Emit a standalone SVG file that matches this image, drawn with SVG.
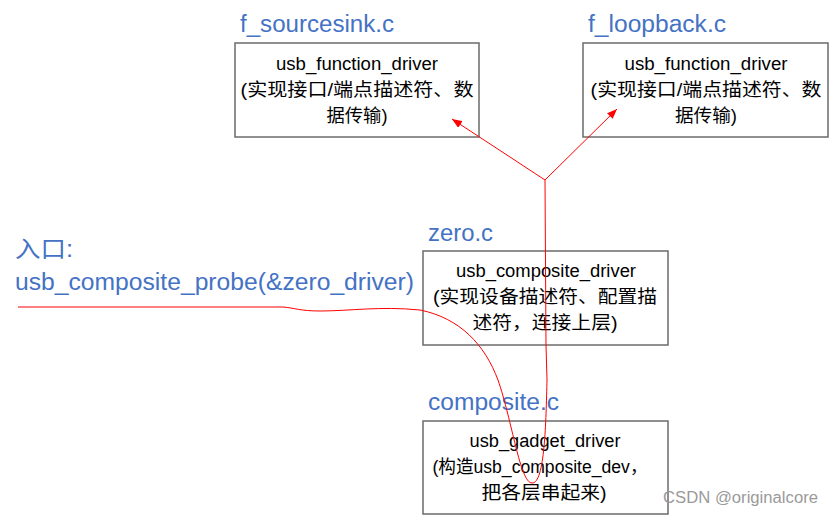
<svg xmlns="http://www.w3.org/2000/svg" width="833" height="516" viewBox="0 0 833 516">
<style>
.box{fill:#fff;stroke:#6b6b6b;stroke-width:1.5}
.t{font-family:"Liberation Sans","Noto Sans CJK SC",sans-serif;font-size:18px;fill:#000;text-anchor:middle}
.h{font-family:"Liberation Sans","Noto Sans CJK SC",sans-serif;font-size:23px;fill:#4472C4}
.r{fill:none;stroke:#ff0000;stroke-width:1}
.wm{font-family:"Liberation Sans",sans-serif;font-size:16px;fill:#9a9a9a}
</style>
<defs>
<marker id="ah" viewBox="0 0 10 8" refX="10" refY="4" markerWidth="10" markerHeight="8" markerUnits="userSpaceOnUse" orient="auto">
<path d="M0,0 L10,4 L0,8 z" fill="#ff0000"/>
</marker>
</defs>
<g id="title-sourcesink"><text class="h" x="240" y="32" textLength="154" lengthAdjust="spacingAndGlyphs">f_sourcesink.c</text></g>
<g id="title-loopback"><text class="h" x="588" y="32" textLength="138" lengthAdjust="spacingAndGlyphs">f_loopback.c</text></g>
<g id="title-zero"><text class="h" x="428" y="241" textLength="65" lengthAdjust="spacingAndGlyphs">zero.c</text></g>
<g id="title-composite"><text class="h" x="428" y="410" textLength="131" lengthAdjust="spacingAndGlyphs">composite.c</text></g>
<g id="entry">
<text class="h" x="15" y="257" textLength="58" lengthAdjust="spacingAndGlyphs">入口:</text>
<text class="h" x="15" y="290" textLength="399" lengthAdjust="spacingAndGlyphs">usb_composite_probe(&amp;zero_driver)</text>
</g>
<g id="node-sourcesink">
<rect class="box" x="235" y="43" width="244" height="94"/>
<text class="t" x="357" y="70" textLength="162" lengthAdjust="spacingAndGlyphs">usb_function_driver</text>
<text class="t" x="357" y="96" textLength="233" lengthAdjust="spacingAndGlyphs">(实现接口/端点描述符、数</text>
<text class="t" x="357" y="122" textLength="61" lengthAdjust="spacingAndGlyphs">据传输)</text>
</g>
<g id="node-loopback">
<rect class="box" x="583" y="43" width="245" height="94"/>
<text class="t" x="706" y="70" textLength="163" lengthAdjust="spacingAndGlyphs">usb_function_driver</text>
<text class="t" x="706" y="96" textLength="231" lengthAdjust="spacingAndGlyphs">(实现接口/端点描述符、数</text>
<text class="t" x="706" y="122" textLength="62" lengthAdjust="spacingAndGlyphs">据传输)</text>
</g>
<g id="node-zero">
<rect class="box" x="423" y="251" width="245" height="94"/>
<text class="t" x="546" y="277" textLength="180" lengthAdjust="spacingAndGlyphs">usb_composite_driver</text>
<text class="t" x="545" y="303" textLength="224" lengthAdjust="spacingAndGlyphs">(实现设备描述符、配置描</text>
<text class="t" x="545" y="329" textLength="145" lengthAdjust="spacingAndGlyphs">述符，连接上层)</text>
</g>
<g id="node-composite">
<rect class="box" x="423" y="421" width="245" height="93"/>
<text class="t" x="545" y="447" textLength="151" lengthAdjust="spacingAndGlyphs">usb_gadget_driver</text>
<text class="t" x="540" y="473" textLength="215" lengthAdjust="spacingAndGlyphs">(构造usb_composite_dev，</text>
<text class="t" x="544" y="499" textLength="125" lengthAdjust="spacingAndGlyphs">把各层串起来)</text>
</g>
<g id="connectors">
<path class="r" d="M18 307 L283 307 C295 308 300 311 320 311 C350 311 380 306 420 310 C460 318 485 345 498 380 C512 420 520 483 532 483 C545 484 546 420 547 380 L546 345 L545 180"/>
<line class="r" x1="545" y1="180" x2="452" y2="119" marker-end="url(#ah)"/>
<line class="r" x1="545" y1="180" x2="617" y2="109" marker-end="url(#ah)"/>
</g>
<text class="wm" x="663" y="503" textLength="155" lengthAdjust="spacingAndGlyphs">CSDN @originalcore</text>
</svg>
